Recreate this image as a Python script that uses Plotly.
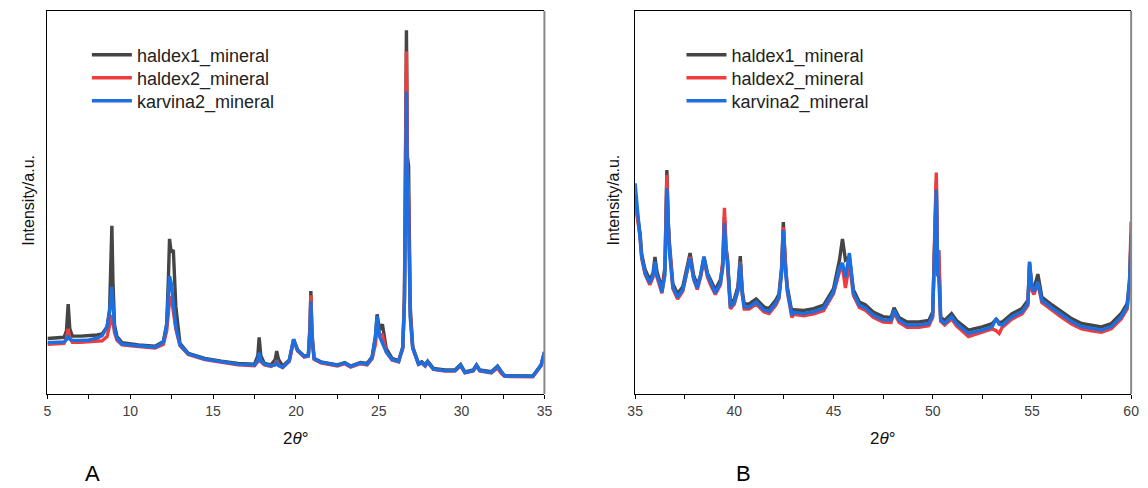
import plotly.graph_objects as go

# ---------------- Panel A (5-35 deg) ----------------
A_x = [5.0, 5.5, 6.0, 6.15, 6.25, 6.35, 6.5, 7.0, 7.5, 8.0, 8.3, 8.6, 8.75, 8.85, 8.89, 8.95, 9.05, 9.2,
       9.5, 10.5, 11.5, 12.0, 12.2, 12.3, 12.37, 12.47, 12.6, 12.75, 13.0, 13.5, 14.5, 15.5, 16.5, 17.5,
       17.7, 17.78, 17.88, 18.1, 18.5, 18.75, 18.84, 18.95, 19.2, 19.6, 19.86, 20.1, 20.5, 20.75, 20.85,
       20.9, 20.97, 21.1, 21.5, 22.5, 22.95, 23.3, 23.9, 24.3, 24.6, 24.8, 24.9, 25.05, 25.22, 25.45,
       25.8, 26.2, 26.45, 26.55, 26.62, 26.67, 26.73, 26.8, 26.9, 27.05, 27.4, 27.6, 27.8, 27.95, 28.3,
       29.0, 29.6, 29.94, 30.2, 30.7, 30.9, 31.1, 31.8, 32.17, 32.4, 32.6, 34.3, 34.5, 34.8, 35.0]
A_haldex1 = [14.5, 14.6, 14.8, 16.5, 23.5, 17.0, 15.1, 15.1, 15.2, 15.4, 15.7, 17.6, 22.0, 35.0, 43.9, 30.0, 18.0, 15.0,
             13.4, 12.8, 12.5, 13.7, 18.4, 30.0, 40.5, 37.0, 37.6, 22.8, 13.2, 10.6, 9.3, 8.6, 8.0, 7.8,
             10.0, 14.8, 10.0, 8.0, 7.6, 9.0, 11.2, 9.0, 7.3, 8.9, 14.3, 11.5, 9.9, 10.2, 18.0,
             26.9, 16.0, 9.3, 8.4, 7.6, 8.2, 7.3, 8.2, 8.0, 9.7, 15.0, 20.8, 16.7, 18.2, 11.9,
             9.3, 8.7, 12.3, 25.4, 60.0, 95.0, 62.0, 59.5, 22.8, 12.3, 8.0, 8.4, 7.6, 8.6, 6.7,
             6.3, 6.3, 7.7, 5.8, 6.3, 7.6, 6.3, 5.8, 7.3, 5.8, 4.8, 4.7, 5.8, 7.6, 11.0]
A_haldex2 = [13.0, 13.1, 13.2, 14.5, 17.0, 14.6, 13.5, 13.5, 13.6, 13.7, 13.9, 15.0, 17.5, 19.5, 20.6, 19.0, 16.0, 14.0,
             12.8, 12.4, 12.0, 13.0, 16.5, 21.0, 24.5, 25.5, 22.0, 17.0, 12.6, 10.3, 9.0, 8.2, 7.6, 7.4,
             8.5, 10.0, 8.4, 7.6, 7.2, 7.8, 8.8, 7.6, 6.9, 8.5, 14.0, 11.2, 9.6, 9.9, 17.0,
             25.8, 15.0, 9.0, 8.1, 7.3, 7.9, 7.0, 7.9, 7.6, 9.2, 13.0, 17.5, 15.5, 15.5, 11.0,
             8.9, 8.4, 12.0, 24.0, 55.0, 89.5, 58.0, 51.0, 21.0, 12.0, 7.7, 8.1, 7.3, 8.3, 6.4,
             6.0, 6.0, 7.4, 5.5, 6.0, 7.3, 6.0, 5.5, 6.8, 5.3, 4.6, 4.5, 5.6, 7.4, 10.8]
A_karvina2 = [13.4, 13.5, 13.6, 14.2, 15.2, 14.3, 14.0, 14.0, 14.1, 14.6, 15.2, 17.5, 21.5, 26.0, 28.0, 24.0, 17.0, 14.5,
              13.0, 12.6, 12.2, 13.5, 18.0, 26.0, 30.8, 29.0, 24.0, 17.5, 12.8, 10.5, 9.1, 8.4, 7.8, 7.6,
              8.8, 10.8, 8.8, 7.8, 7.4, 7.6, 8.2, 7.4, 7.0, 8.7, 14.3, 11.4, 9.8, 10.0, 16.0,
              24.2, 14.0, 9.2, 8.3, 7.5, 8.1, 7.2, 8.1, 7.8, 9.6, 15.0, 20.3, 15.0, 13.5, 11.0,
              9.0, 8.5, 12.0, 24.0, 50.0, 79.0, 52.0, 47.0, 20.0, 12.0, 7.8, 8.2, 7.4, 8.4, 6.5,
              6.1, 6.1, 7.5, 5.6, 6.1, 7.4, 6.1, 5.6, 7.2, 5.8, 4.7, 4.6, 5.7, 7.5, 10.9]

# ---------------- Panel B (35-60 deg) ----------------
B_x = [35.0, 35.08, 35.25, 35.33, 35.5, 35.74, 35.9, 36.0, 36.1, 36.24, 36.35, 36.5, 36.6, 36.67, 36.73, 36.9,
       37.14, 37.4, 37.6, 37.77, 37.95, 38.13, 38.3, 38.47, 38.65, 38.8, 39.04, 39.3, 39.42, 39.5, 39.58,
       39.65, 39.8, 40.0, 40.18, 40.3, 40.4, 40.5, 40.75, 41.1, 41.5, 41.75, 42.1, 42.25, 42.38, 42.47,
       42.57, 42.67, 42.9, 43.0, 43.5, 44.0, 44.5, 45.0, 45.3, 45.45, 45.6, 45.8, 46.0, 46.3, 46.6, 47.0,
       47.5, 47.9, 48.05, 48.3, 48.7, 49.3, 49.8, 50.0, 50.1, 50.18, 50.25, 50.3, 50.4, 50.6, 50.95, 51.2,
       51.8, 52.5, 53.0, 53.2, 53.35, 53.5, 54.0, 54.5, 54.8, 54.88, 55.0, 55.1, 55.3, 55.5, 56.0, 56.5,
       57.0, 57.5, 58.0, 58.5, 59.0, 59.5, 59.8, 59.92, 60.0]
B_haldex1 = [50.0, 48.0, 42.0, 36.5, 32.5, 29.8, 31.5, 35.8, 32.0, 29.5, 27.5, 33.0, 58.5, 45.0, 39.4, 28.8,
             26.2, 28.0, 33.0, 36.8, 31.0, 28.5, 31.0, 35.8, 31.5, 29.8, 27.2, 29.8, 34.0, 46.2, 38.0,
             35.8, 23.5, 24.8, 28.0, 36.0, 27.0, 23.5, 23.5, 24.8, 22.7, 22.3, 24.6, 26.1, 33.0, 44.9,
             34.0, 28.0, 21.4, 22.0, 21.8, 22.3, 23.2, 27.5, 35.0, 40.5, 35.0, 35.8, 27.2, 24.0, 23.3, 21.4,
             20.2, 20.0, 22.5, 20.0, 18.8, 18.8, 19.2, 21.4, 40.0, 55.4, 32.0, 37.6, 20.0, 19.2, 21.0, 19.2,
             16.7, 17.5, 18.4, 19.5, 18.6, 18.8, 21.0, 22.3, 24.5, 33.7, 28.0, 27.5, 31.3, 25.3, 23.3, 21.4,
             19.7, 18.4, 17.9, 17.5, 18.4, 21.0, 23.6, 29.8, 40.0]
B_haldex2 = [52.0, 47.0, 41.0, 35.5, 31.3, 28.5, 30.5, 34.0, 30.5, 28.3, 26.3, 32.0, 57.2, 44.0, 38.5, 27.5,
             24.8, 26.8, 32.0, 35.8, 30.0, 27.3, 30.5, 35.0, 30.5, 28.5, 26.0, 28.5, 35.0, 48.6, 39.0,
             34.5, 22.2, 23.5, 27.0, 34.5, 26.0, 22.2, 22.2, 23.5, 21.4, 21.0, 23.3, 25.0, 32.0, 43.6,
             33.0, 26.7, 20.0, 20.8, 20.4, 20.9, 21.8, 26.2, 32.0, 33.2, 27.7, 34.2, 25.8, 22.6, 21.9, 20.0,
             18.8, 18.7, 21.3, 18.7, 17.4, 17.4, 17.8, 20.0, 42.0, 57.8, 31.6, 37.6, 19.0, 18.0, 19.6, 17.8,
             15.0, 16.1, 17.0, 16.5, 15.8, 17.4, 19.6, 20.9, 23.1, 34.5, 27.0, 26.0, 28.8, 23.9, 21.9, 20.0,
             18.3, 17.0, 16.5, 16.1, 17.0, 19.6, 22.2, 28.4, 45.0]
B_karvina2 = [55.0, 50.0, 42.0, 35.8, 31.6, 29.0, 31.0, 34.5, 31.0, 29.0, 26.6, 31.0, 53.8, 42.0, 37.0, 28.0,
              25.3, 27.2, 32.0, 35.5, 30.0, 27.7, 31.0, 35.8, 31.0, 29.0, 26.4, 29.0, 33.0, 44.6, 36.0,
              35.0, 22.7, 24.0, 27.0, 34.2, 26.0, 22.7, 22.7, 24.0, 21.9, 21.5, 23.8, 25.3, 31.5, 42.8,
              32.5, 27.2, 20.6, 21.3, 21.0, 21.5, 22.4, 26.7, 33.0, 34.2, 30.5, 36.8, 26.4, 23.2, 22.5, 20.6,
              19.4, 19.3, 21.9, 19.3, 18.0, 18.0, 18.4, 20.6, 38.0, 53.3, 31.0, 30.6, 19.3, 18.5, 20.2, 18.4,
              15.8, 16.7, 17.6, 19.7, 18.2, 18.0, 20.2, 21.5, 23.7, 34.5, 28.0, 26.7, 29.3, 24.5, 22.5, 20.6,
              18.9, 17.6, 17.1, 16.7, 17.6, 20.2, 22.8, 29.0, 41.5]

names = ["haldex1_mineral", "haldex2_mineral", "karvina2_mineral"]
colors = ["#454545", "#F03C3C", "#1C6FE0"]

W, H = 1148, 488
FONT = "Liberation Sans, Arial, sans-serif"


def px_x(p):
    return p / W


def px_y(p):
    return 1 - p / H


fig = go.Figure()
legend_ids = ["legend", "legend2", "legend3", "legend4", "legend5", "legend6"]
k = 0
for name, col, y in zip(names, colors, [A_haldex1, A_haldex2, A_karvina2]):
    fig.add_trace(go.Scatter(x=A_x, y=y, mode="lines", name=name, line=dict(color=col, width=3.4),
                             xaxis="x", yaxis="y", legend=legend_ids[k]))
    k += 1
for name, col, y in zip(names, colors, [B_haldex1, B_haldex2, B_karvina2]):
    fig.add_trace(go.Scatter(x=B_x, y=y, mode="lines", name=name, line=dict(color=col, width=3.4),
                             xaxis="x2", yaxis="y2", legend=legend_ids[k]))
    k += 1

top, bottom = 11, 394
dA = [px_x(40), px_x(544)]
dB = [px_x(636), px_x(1139)]
dy = [px_y(bottom), px_y(top)]

xcommon = dict(showline=True, linecolor="#000000", linewidth=1.2, mirror=True, ticks="outside",
               ticklen=4, tickcolor="#000000", tickwidth=1, showgrid=False, zeroline=False,
               tickfont=dict(family=FONT, size=14, color="#404040"), dtick=5,
               minor=dict(ticks="outside", ticklen=4, dtick=2.5, tickcolor="#000000"))
ycommon = dict(showline=True, linecolor="#000000", linewidth=1.2, showticklabels=False, ticks="",
               showgrid=False, zeroline=False, range=[0, 100])

legcommon = dict(font=dict(family=FONT, size=18, color="#222222"), bgcolor="rgba(0,0,0,0)",
                 xanchor="left", yanchor="middle", itemwidth=40)

layout_leg = {}
rows = [55, 78, 101]
for i, lid in enumerate(legend_ids):
    lx = 80 if i < 3 else 683
    layout_leg[lid] = dict(x=px_x(lx), y=px_y(rows[i % 3]), **legcommon)

fig.update_layout(
    width=W, height=H, margin=dict(l=0, r=0, t=0, b=0),
    plot_bgcolor="white", paper_bgcolor="white", showlegend=True,
    xaxis=dict(domain=dA, range=[5, 35], tick0=5, anchor="y", **xcommon),
    yaxis=dict(domain=dy, anchor="x", **ycommon),
    xaxis2=dict(domain=dB, range=[35, 60], tick0=35, anchor="y2", **xcommon),
    yaxis2=dict(domain=dy, anchor="x2", **ycommon),
    **layout_leg,
)

shapes = []
for d in (dA, dB):
    shapes.append(dict(type="line", xref="paper", yref="paper", x0=d[1], x1=d[1], y0=dy[0], y1=dy[1],
                       line=dict(color="#888888", width=2)))
fig.update_layout(shapes=shapes)

ann = []
for cx in ((40 + 544) / 2, (636 + 1139) / 2):
    ann.append(dict(text="2<i>θ</i>°", x=px_x(cx), y=px_y(438), xref="paper", yref="paper",
                    showarrow=False, xanchor="center", yanchor="middle",
                    font=dict(family=FONT, size=17, color="#111111")))
for lx in (20, 614):
    ann.append(dict(text="Intensity/a.u.", x=px_x(lx), y=px_y(200), xref="paper", yref="paper",
                    showarrow=False, xanchor="center", yanchor="middle", textangle=-90,
                    font=dict(family=FONT, size=16, color="#111111")))
for t, lx in (("A", 86), ("B", 746)):
    ann.append(dict(text=t, x=px_x(lx), y=px_y(473), xref="paper", yref="paper",
                    showarrow=False, xanchor="center", yanchor="middle",
                    font=dict(family=FONT, size=22, color="#000000")))
fig.update_layout(annotations=ann)

fig.write_html("out.html")
